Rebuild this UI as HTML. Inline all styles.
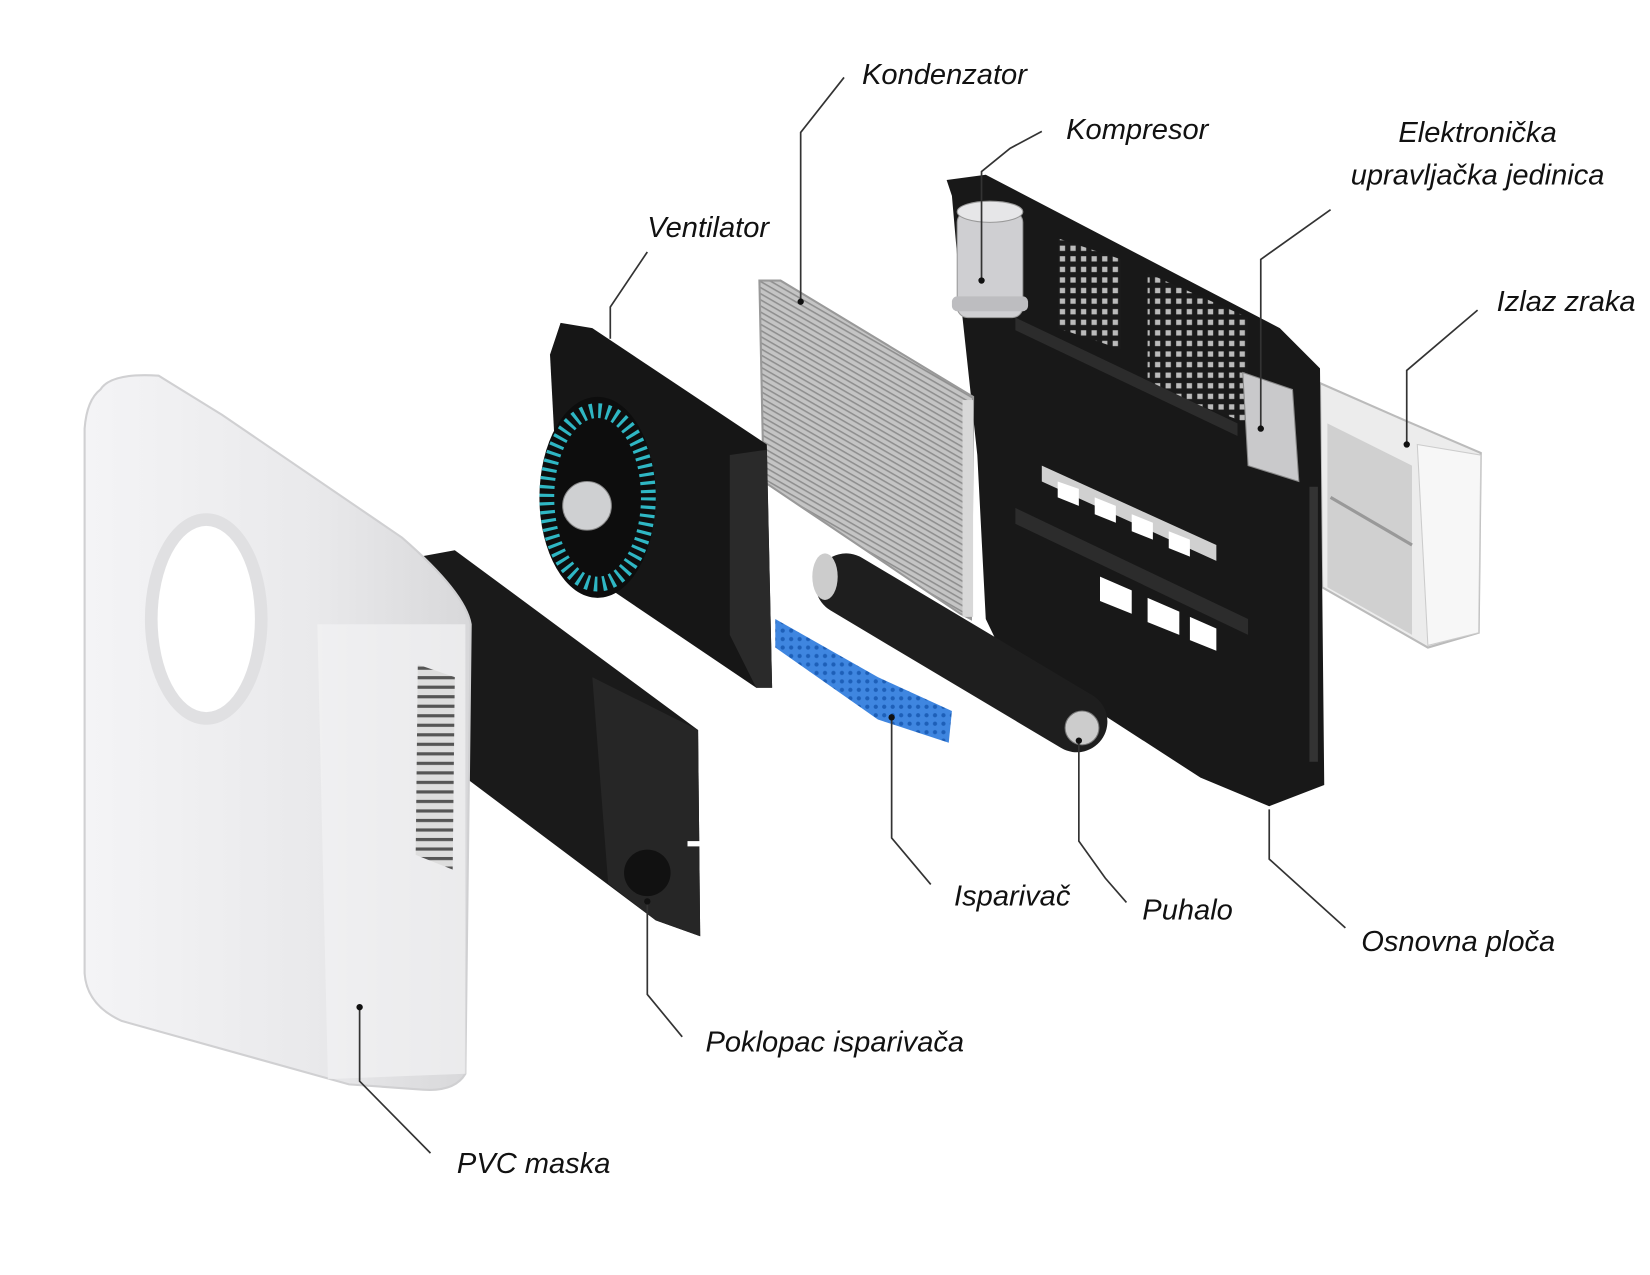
<!DOCTYPE html>
<html><head><meta charset="utf-8"><style>
html,body{margin:0;padding:0;background:#fff;}
svg{display:block;}
text{font-family:"Liberation Sans",sans-serif;font-style:italic;font-size:27.5px;fill:#111;}
</style></head><body>
<svg width="1650" height="1275" viewBox="0 0 1560 1205" xmlns="http://www.w3.org/2000/svg">
<defs>
<linearGradient id="pvc" x1="0" y1="0" x2="1" y2="0"><stop offset="0" stop-color="#f4f4f6"/><stop offset="0.6" stop-color="#e9e9eb"/><stop offset="1" stop-color="#d8d8da"/></linearGradient>
<pattern id="fins" width="5" height="5" patternUnits="userSpaceOnUse" patternTransform="rotate(30)"><rect width="5" height="5" fill="#c4c4c4"/><rect width="5" height="1.5" fill="#8f8f8f"/></pattern>
<pattern id="grid" width="10" height="10" patternUnits="userSpaceOnUse"><rect width="10" height="10" fill="#1a1a1a"/><rect x="2" y="2" width="5" height="5" fill="#bbb"/></pattern>
<pattern id="blue" width="8" height="8" patternUnits="userSpaceOnUse"><rect width="8" height="8" fill="#3f86e0"/><circle cx="4" cy="4" r="2" fill="#1d5fb8"/></pattern>
<pattern id="vent" width="10" height="9" patternUnits="userSpaceOnUse"><rect width="10" height="9" fill="#ddd"/><rect width="10" height="3" fill="#555"/></pattern>
</defs>

<!-- air outlet -->
<polygon points="1248,362 1330,398 1400,428 1398,598 1350,612 1250,555" fill="#ececec" stroke="#bbb" stroke-width="2"/>
<polygon points="1340,420 1400,430 1398,598 1350,610 1340,420" fill="#f7f7f7" stroke="#ccc"/>
<polygon points="1255,400 1335,440 1335,600 1255,555" fill="#d0d0d0"/>
<line x1="1258" y1="470" x2="1335" y2="515" stroke="#999" stroke-width="3"/>

<!-- base plate -->
<polygon points="895,170 932,165 1210,310 1248,348 1252,742 1200,762 1135,735 945,612 932,585 924,430 910,300 900,185" fill="#181818"/>
<polygon points="1000,225 1060,245 1060,330 1000,310" fill="url(#grid)"/>
<polygon points="1085,258 1180,300 1180,400 1085,365" fill="url(#grid)"/>
<polygon points="960,300 1170,400 1170,412 960,312" fill="#2c2c2c"/>
<polygon points="985,440 1150,515 1150,530 985,455" fill="#fff" opacity="0.8"/>
<polygon points="960,480 1180,585 1180,600 960,495" fill="#2c2c2c"/>
<polygon points="1040,545 1070,558 1070,580 1040,568" fill="#fff"/>
<polygon points="1085,565 1115,578 1115,600 1085,588" fill="#fff"/>
<polygon points="1125,583 1150,594 1150,615 1125,605" fill="#fff"/>
<polygon points="1000,455 1020,462 1020,478 1000,470" fill="#fff"/>
<polygon points="1035,470 1055,478 1055,494 1035,486" fill="#fff"/>
<polygon points="1070,486 1090,494 1090,510 1070,502" fill="#fff"/>
<polygon points="1105,502 1125,510 1125,526 1105,518" fill="#fff"/>
<rect x="1238" y="460" width="8" height="260" fill="#333"/>

<!-- compressor -->
<rect x="905" y="200" width="62" height="100" rx="10" fill="#cfcfd2" stroke="#999"/>
<ellipse cx="936" cy="200" rx="31" ry="10" fill="#e6e6e8" stroke="#999"/>
<rect x="900" y="280" width="72" height="14" rx="5" fill="#bdbdc0"/>

<!-- electronic unit -->
<polygon points="1175,352 1222,368 1228,455 1180,440" fill="#c9c9cb" stroke="#888"/>

<!-- condenser -->
<polygon points="718,265 738,265 920,375 918,585 908,580 722,455" fill="url(#fins)" stroke="#999" stroke-width="2"/>
<rect x="910" y="378" width="10" height="205" fill="#d8d8d8"/>

<!-- blower -->
<line x1="800" y1="552" x2="1018" y2="682" stroke="#1e1e1e" stroke-width="58" stroke-linecap="round"/>
<ellipse cx="780" cy="545" rx="12" ry="22" fill="#ccc"/>
<circle cx="1023" cy="688" r="16" fill="#ccc" stroke="#777"/>

<!-- evaporator -->
<polygon points="733,585 830,640 900,672 897,702 830,680 733,612" fill="url(#blue)"/>

<!-- fan -->
<polygon points="530,305 560,310 725,420 730,650 715,650 530,525 520,335" fill="#161616"/>
<polygon points="690,430 725,425 730,650 715,650 690,600" fill="#2a2a2a"/>
<ellipse cx="565" cy="470" rx="55" ry="95" fill="#0d0d0d"/>
<ellipse cx="565" cy="470" rx="48" ry="82" fill="none" stroke="#2fb7c4" stroke-width="14" stroke-dasharray="3 5"/>
<circle cx="555" cy="478" r="23" fill="#cfd0d2" stroke="#888"/>

<!-- evaporator cover -->
<polygon points="392,527 430,520 660,690 662,885 620,870 440,735 420,630" fill="#1a1a1a"/>
<polygon points="560,640 660,690 662,885 620,870 575,835" fill="#262626"/>
<circle cx="612" cy="825" r="22" fill="#111"/>
<rect x="650" y="795" width="14" height="5" fill="#fff"/>

<!-- PVC maska -->
<path d="M95,368 Q105,352 150,355 L210,392 L380,508 Q440,560 445,590 L440,1015 Q430,1032 400,1030 L330,1025 L115,965 Q82,950 80,920 L80,405 Q82,378 95,368 Z" fill="url(#pvc)" stroke="#d0d0d2" stroke-width="2"/>
<path d="M300,590 L440,590 L440,1015 L310,1020 Z" fill="#f2f2f3" opacity="0.7"/>
<ellipse cx="195" cy="585" rx="58" ry="100" fill="#e0e0e2"/>
<ellipse cx="195" cy="585" rx="46" ry="88" fill="#fff"/>
<polygon points="395,628 430,640 428,822 393,808" fill="url(#vent)"/>

<!-- leader lines -->
<g fill="none" stroke="#333" stroke-width="1.6">
<polyline points="798,73 757,125 757,285"/>
<polyline points="985,124 955,140 928,162 928,265"/>
<polyline points="612,238 577,290 577,320"/>
<polyline points="1258,198 1192,245 1192,405"/>
<polyline points="1397,293 1330,350 1330,420"/>
<polyline points="880,836 843,792 843,678"/>
<polyline points="1065,853 1045,830 1020,795 1020,700"/>
<polyline points="1272,877 1200,812 1200,765"/>
<polyline points="645,980 612,940 612,852"/>
<polyline points="407,1090 340,1022 340,952"/>
</g>
<g fill="#111">
<circle cx="757" cy="285" r="3"/><circle cx="928" cy="265" r="3"/><circle cx="1192" cy="405" r="3"/>
<circle cx="1330" cy="420" r="3"/><circle cx="843" cy="678" r="3"/><circle cx="1020" cy="700" r="3"/>
<circle cx="612" cy="852" r="3"/><circle cx="340" cy="952" r="3"/>
</g>

<!-- labels -->
<text x="815" y="79">Kondenzator</text>
<text x="1008" y="131">Kompresor</text>
<text x="1397" y="134" text-anchor="middle">Elektronička</text>
<text x="1397" y="174" text-anchor="middle">upravljačka jedinica</text>
<text x="612" y="224">Ventilator</text>
<text x="1415" y="294">Izlaz zraka</text>
<text x="902" y="856">Isparivač</text>
<text x="1080" y="869">Puhalo</text>
<text x="1287" y="899">Osnovna ploča</text>
<text x="667" y="994">Poklopac isparivača</text>
<text x="432" y="1109">PVC maska</text>
</svg>
</body></html>
